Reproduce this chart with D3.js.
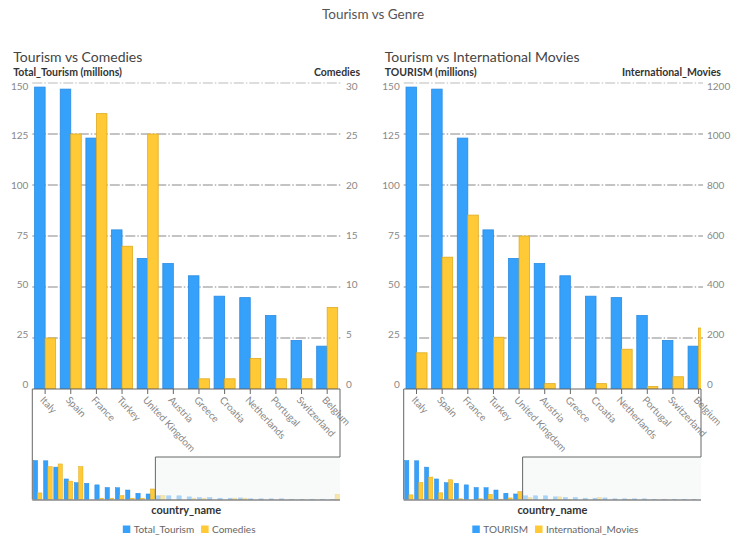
<!DOCTYPE html>
<html>
<head>
<meta charset="utf-8">
<script src="https://cdn.jsdelivr.net/npm/d3@7/dist/d3.min.js"></script>
<style>
    body { margin: 0; background: #fff; font-family: Lato, "Open Sans", sans-serif; }
</style>
</head>
<body>
<div id="chart"></div>
<script>
// Countries sorted by tourism; only the first 12 are shown in the main view
const countries = [
    "Italy", "Spain", "France", "Turkey", "United Kingdom", "Austria",
    "Greece", "Croatia", "Netherlands", "Portugal", "Switzerland", "Belgium",
    "Germany", "Poland", "Hungary", "Czech Republic", "Ireland", "Sweden",
    "Denmark", "Norway", "Romania", "Bulgaria", "Finland", "Slovenia",
    "Slovakia", "Estonia", "Latvia", "Lithuania", "Luxembourg", "Iceland"
];
// Tourism (millions)
const tourism = [
    148, 147, 123, 78, 64, 61.5, 55.5, 45.5, 44.8, 36, 23.8, 21,
    14, 14, 14, 10, 7.6, 7.6, 5, 5, 6, 2.5, 2.5, 2.5, 2.5, 1, 1, 1, 1, 0.5
];
const comedies = [
    5, 25, 27, 14, 25, 0, 1, 1, 3, 1, 1, 8,
    3, 0, 0, 1, 1, 0, 0, 1, 1, 0, 0, 0, 0, 0, 0, 0, 0, 4
];
const intlMovies = [
    142, 517, 682, 203, 600, 21, 0, 21, 156, 10, 48, 239,
    60, 0, 0, 80, 5, 0, 0, 60, 0, 0, 5, 0, 0, 0, 0, 0, 0, 0
];
const tourismTicks = [0, 25, 50, 75, 100, 125, 150];
const comedyTicks = [0, 5, 10, 15, 20, 25, 30];
const movieTicks = [0, 200, 400, 600, 800, 1000, 1200];
const visibleCount = 12;

const width = 746, height = 537;
const BLUE = "#36a1fb", BLUE_EDGE = "#2a8be3";
const YELLOW = "#ffca36", YELLOW_EDGE = "#dfab22";

const svg = d3.select("#chart").append("svg")
    .attr("width", width)
    .attr("height", height);

// Page title
svg.append("text")
    .attr("x", width / 2)
    .attr("y", 19)
    .attr("text-anchor", "middle")
    .style("font-size", "13.5px")
    .style("fill", "#555")
    .text("Tourism vs Genre");

const panels = [
    {
        id: "p0", left: 32.3, right: 340,
        title: "Tourism vs Comedies",
        yTitle: "Total_Tourism (millions)", y2Title: "Comedies",
        genre: comedies, genreTicks: comedyTicks,
        legend: ["Total_Tourism", "Comedies"]
    },
    {
        id: "p1", left: 403.7, right: 701,
        title: "Tourism vs International Movies",
        yTitle: "TOURISM (millions)", y2Title: "International_Movies",
        genre: intlMovies, genreTicks: movieTicks,
        legend: ["TOURISM", "International_Movies"]
    }
];

// both main views share the same band step (right one gets clipped)
const mainStep = (panels[0].right - panels[0].left) / visibleCount;

const plotTop = 83, plotBottom = 389;
const ovTop = 460, ovBottom = 499.5, windowY = 457;

panels.forEach(drawPanel);

function drawPanel(p) {
    const g = svg.append("g");

    // titles
    g.append("text")
        .attr("x", p.left - 19)
        .attr("y", 62)
        .style("font-size", "14px")
        .style("fill", "#444")
        .text(p.title);

    g.append("text")
        .attr("x", p.left - 19)
        .attr("y", 76)
        .style("font-size", "10.5px")
        .style("font-weight", "bold")
        .style("fill", "#333")
        .text(p.yTitle);

    g.append("text")
        .attr("x", p.right + 20)
        .attr("y", 76)
        .attr("text-anchor", "end")
        .style("font-size", "10.5px")
        .style("font-weight", "bold")
        .style("fill", "#333")
        .text(p.y2Title);

    // scales
    const y = d3.scaleLinear()
        .domain([0, d3.max(tourismTicks)])
        .range([plotBottom, plotTop]);
    const y2 = d3.scaleLinear()
        .domain([0, d3.max(p.genreTicks)])
        .range([plotBottom, plotTop]);
    // tick labels sit a little inside the gridlines at both ends
    const labelY = d3.scaleLinear()
        .domain([0, d3.max(tourismTicks)])
        .range([plotBottom - 5, plotTop + 3]);
    const labelY2 = d3.scaleLinear()
        .domain([0, d3.max(p.genreTicks)])
        .range([plotBottom - 5, plotTop + 3]);
    const shown = countries.slice(0, visibleCount);
    const x = d3.scaleBand()
        .domain(shown)
        .range([p.left, p.left + mainStep * visibleCount]);
    const bw = x.bandwidth() * 0.41;

    // gridlines (dash-dot)
    tourismTicks.filter(t => t > 0).forEach((t, i, arr) => {
        g.append("line")
            .attr("x1", p.left)
            .attr("x2", p.right + 2)
            .attr("y1", y(t))
            .attr("y2", y(t))
            .style("stroke", i === arr.length - 1 ? "#bbb" : "#888")
            .style("stroke-width", 1)
            .style("stroke-dasharray", "10,2,1.5,2");
    });

    // tick labels, left and right
    tourismTicks.forEach(t => {
        g.append("text")
            .attr("x", p.left - 4)
            .attr("y", labelY(t))
            .attr("dy", "0.35em")
            .attr("text-anchor", "end")
            .style("font-size", "10px")
            .style("fill", "#888")
            .text(t);
    });
    p.genreTicks.forEach(t => {
        g.append("text")
            .attr("x", p.right + 6)
            .attr("y", labelY2(t))
            .attr("dy", "0.35em")
            .style("font-size", "10px")
            .style("fill", "#888")
            .text(t);
    });

    // clip main bars at the plot edge
    svg.append("clipPath").attr("id", "clip-" + p.id)
        .append("rect")
        .attr("x", p.left)
        .attr("y", 0)
        .attr("width", p.right - p.left)
        .attr("height", plotBottom);

    const bars = g.append("g").attr("clip-path", "url(#clip-" + p.id + ")");

    bars.selectAll(".tour").data(shown).enter().append("rect")
        .attr("x", d => x(d) + x.bandwidth() / 2 - bw)
        .attr("y", (d, i) => y(tourism[i]))
        .attr("width", bw)
        .attr("height", (d, i) => plotBottom - y(tourism[i]))
        .style("fill", BLUE)
        .style("stroke", BLUE_EDGE)
        .style("stroke-width", 0.8);

    bars.selectAll(".genre").data(shown).enter().append("rect")
        .attr("x", d => x(d) + x.bandwidth() / 2)
        .attr("y", (d, i) => y2(p.genre[i]))
        .attr("width", bw)
        .attr("height", (d, i) => plotBottom - y2(p.genre[i]))
        .style("fill", YELLOW)
        .style("stroke", YELLOW_EDGE)
        .style("stroke-width", 0.8);

    // x axis with ticks at band centres
    g.append("line")
        .attr("x1", p.left).attr("x2", p.right)
        .attr("y1", plotBottom).attr("y2", plotBottom)
        .style("stroke", "#666");

    shown.forEach(c => {
        const cx = x(c) + x.bandwidth() / 2;
        if (cx > p.right) return;
        g.append("line")
            .attr("x1", cx).attr("x2", cx)
            .attr("y1", plotBottom).attr("y2", plotBottom + 5)
            .style("stroke", "#666");
        g.append("text")
            .attr("transform", `translate(${cx - 3},${plotBottom + 9}) rotate(47)`)
            .attr("dy", "0.35em")
            .style("font-size", "10px")
            .style("fill", "#888")
            .text(c);
    });

    // overview of all countries
    const ox = d3.scaleBand()
        .domain(countries)
        .range([p.left, p.right]);
    const oy = d3.scaleLinear()
        .domain([0, d3.max(tourismTicks)])
        .range([ovBottom, ovTop]);
    const oy2 = d3.scaleLinear()
        .domain([0, d3.max(p.genreTicks)])
        .range([ovBottom, ovTop]);
    const obw = ox.bandwidth() * 0.42;

    g.selectAll(".ot").data(countries).enter().append("rect")
        .attr("x", d => ox(d) + 1)
        .attr("y", (d, i) => oy(tourism[i]))
        .attr("width", obw)
        .attr("height", (d, i) => ovBottom - oy(tourism[i]))
        .style("fill", BLUE)
        .style("stroke", BLUE_EDGE)
        .style("stroke-width", 0.5);

    g.selectAll(".og").data(countries).enter().append("rect")
        .attr("x", d => ox(d) + 1 + obw)
        .attr("y", (d, i) => oy2(p.genre[i]))
        .attr("width", obw)
        .attr("height", (d, i) => ovBottom - oy2(p.genre[i]))
        .style("fill", YELLOW)
        .style("stroke", YELLOW_EDGE)
        .style("stroke-width", 0.5);

    // shade the part of the overview outside the selection
    const brushX = ox(countries[visibleCount]);
    g.append("rect")
        .attr("x", brushX)
        .attr("y", windowY)
        .attr("width", p.right - brushX)
        .attr("height", ovBottom - windowY)
        .style("fill", "#f3f7f7")
        .style("opacity", 0.6);

    g.append("line")
        .attr("x1", p.left).attr("x2", p.right)
        .attr("y1", ovBottom + 0.5).attr("y2", ovBottom + 0.5)
        .style("stroke", "#888")
        .style("stroke-width", 1.5);

    // outline linking the selection to the main view
    g.append("path")
        .attr("d", `M${p.left},${ovBottom} V${plotBottom} M${p.right},${plotBottom} V${windowY} H${brushX} V${ovBottom}`)
        .style("fill", "none")
        .style("stroke", "#666")
        .style("stroke-width", 1);

    const centre = (p.left + p.right) / 2;
    g.append("text")
        .attr("x", centre)
        .attr("y", 514)
        .attr("text-anchor", "middle")
        .style("font-size", "11px")
        .style("font-weight", "bold")
        .style("fill", "#333")
        .text("country_name");

    // legend, centred under the panel
    const leg = g.append("g");
    let lx = 0;
    [BLUE, YELLOW].forEach((col, i) => {
        leg.append("rect")
            .attr("x", lx).attr("y", 525.5)
            .attr("width", 7.5).attr("height", 7.5)
            .style("fill", col);
        const t = leg.append("text")
            .attr("x", lx + 11).attr("y", 533)
            .style("font-size", "10px")
            .style("fill", "#666")
            .text(p.legend[i]);
        lx += 11 + t.node().getComputedTextLength() + 7;
    });
    leg.attr("transform", `translate(${centre + 3 - (lx - 7) / 2},0)`);
}
</script>
</body>
</html>
